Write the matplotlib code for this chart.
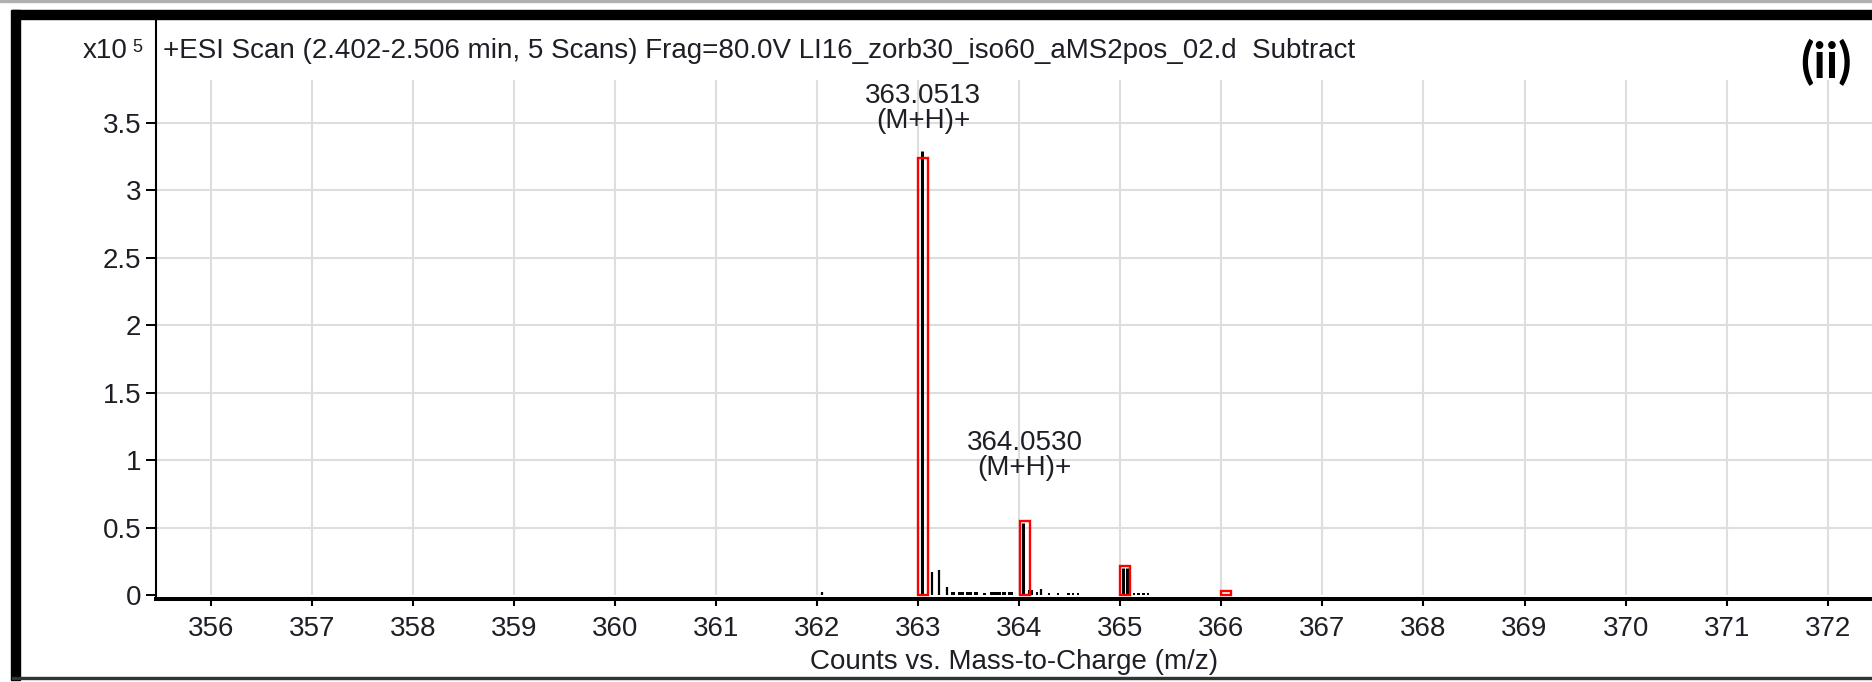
import matplotlib
matplotlib.use("Agg")
import matplotlib.pyplot as plt
from matplotlib import font_manager as fm
from matplotlib.patches import Rectangle

# Measured spectrum (counts x10^5)
main_mz = [363.035, 364.040, 365.030, 365.070]
main_h = [3.29, 0.53, 0.20, 0.20]

minor_mz = [362.05, 363.134, 363.21, 363.283, 364.22]
minor_h = [0.02, 0.17, 0.185, 0.06, 0.045]

# tiny baseline blobs: centre, width (m/z), height
blob_mz = [363.345, 363.42, 363.50, 363.57, 363.655, 363.765, 363.85, 363.915,
           364.115, 364.18, 364.29, 364.38, 364.485, 364.53, 364.58,
           365.135, 365.18, 365.23, 365.275]
blob_w = [0.03, 0.06, 0.06, 0.04, 0.03, 0.11, 0.04, 0.05,
          0.05, 0.02, 0.02, 0.02, 0.03, 0.02, 0.02,
          0.025, 0.025, 0.025, 0.025]
blob_h = [0.025, 0.02, 0.02, 0.02, 0.015, 0.025, 0.02, 0.02,
          0.035, 0.02, 0.015, 0.015, 0.015, 0.015, 0.015,
          0.015, 0.015, 0.015, 0.015]

# Theoretical isotope pattern (red boxes)
theo_mz = [363.0513, 364.0530, 365.05, 366.05]
theo_h = [3.24, 0.549, 0.217, 0.032]

peak_labels = ["363.0513", "364.0530"]
label_mz = [363.0513, 364.0530]
label_y = [3.70, 1.13]
ion = "(M+H)+"

xticks = list(range(356, 373))
yticks = [0, 0.5, 1, 1.5, 2, 2.5, 3, 3.5]
ytick_labels = ["0", "0.5", "1", "1.5", "2", "2.5", "3", "3.5"]

title = "+ESI Scan (2.402-2.506 min, 5 Scans) Frag=80.0V LI16_zorb30_iso60_aMS2pos_02.d  Subtract"
xlabel = "Counts vs. Mass-to-Charge (m/z)"

names = {f.name for f in fm.fontManager.ttflist}
if "Liberation Sans Narrow" in names:
    FONT, FS = "Liberation Sans Narrow", 23
else:
    FONT, FS = "Liberation Sans", 20
plt.rcParams["font.family"] = [FONT, "DejaVu Sans"]
TXT = "#1e1e26"

W, H = 1872, 682
fig = plt.figure(figsize=(W / 100, H / 100), dpi=100)

def fx(px):
    return px / W

def fy(py):
    return 1 - py / H

ax = fig.add_axes([fx(156), fy(599), fx(1872 - 156), (599 - 18) / H])
ax.set_xlim(355.459, 372.438)
ax.set_ylim(-0.0297, 4.277)

# grid
ax.hlines(yticks[1:], 355.459, 372.438, color="#dedede", lw=1.5, zorder=0)
ax.vlines(xticks, 0, 3.817, color="#dedede", lw=1.5, zorder=0)

# spectrum
ax.vlines(main_mz, 0, main_h, color="black", lw=2.2, zorder=2)
ax.vlines(minor_mz, 0, minor_h, color="black", lw=1.6, zorder=2)
ax.bar(blob_mz, blob_h, width=blob_w, color="black", zorder=2)
ax.bar(theo_mz, theo_h, width=0.1, fill=False, edgecolor="#ff0000",
       linewidth=1.7, zorder=3)

for lab, mz, y in zip(peak_labels, label_mz, label_y):
    ax.text(mz, y, lab, ha="center", va="center", fontsize=FS, color=TXT)
    ax.text(mz, y - 0.19, ion, ha="center", va="center", fontsize=FS, color=TXT)

ax.set_xticks(xticks)
ax.set_xticklabels([str(t) for t in xticks], fontsize=FS, color=TXT)
ax.set_yticks(yticks)
ax.set_yticklabels(ytick_labels, fontsize=FS, color=TXT)
ax.tick_params(axis="x", direction="out", length=5, width=1.5, pad=7)
ax.tick_params(axis="y", direction="out", length=7.5, width=1.4, pad=3)
ax.set_xlabel(xlabel, fontsize=FS, color=TXT, labelpad=5)

for s in ["top", "right"]:
    ax.spines[s].set_visible(False)
ax.spines["left"].set_linewidth(1.5)
ax.spines["bottom"].set_linewidth(2.9)

# header texts
fig.text(fx(163), fy(51), title, ha="left", va="center", fontsize=FS, color=TXT)
fig.text(fx(128), fy(51), "x10", ha="right", va="center", fontsize=FS, color=TXT)
fig.text(fx(132), fy(47), "5", ha="left", va="center", fontsize=13, color=TXT)
fig.text(fx(1826), fy(63), "(ii)", ha="center", va="center", fontsize=35,
         fontweight="bold", family="Lato", color="black")

# outer frame
fig.patches.append(Rectangle((fx(12), fy(19)), 1, 9 / H, transform=fig.transFigure,
                             color="black", zorder=5))
fig.patches.append(Rectangle((fx(11), fy(680)), 9 / W, 670 / H, transform=fig.transFigure,
                             color="black", zorder=5))
fig.patches.append(Rectangle((fx(12), fy(679)), 1, 2 / H, transform=fig.transFigure,
                             color="#333333", zorder=5))
fig.patches.append(Rectangle((0, fy(2)), 1, 2 / H, transform=fig.transFigure,
                             color="#b0b0b0", zorder=5))

fig.savefig("out.png", dpi=100)
